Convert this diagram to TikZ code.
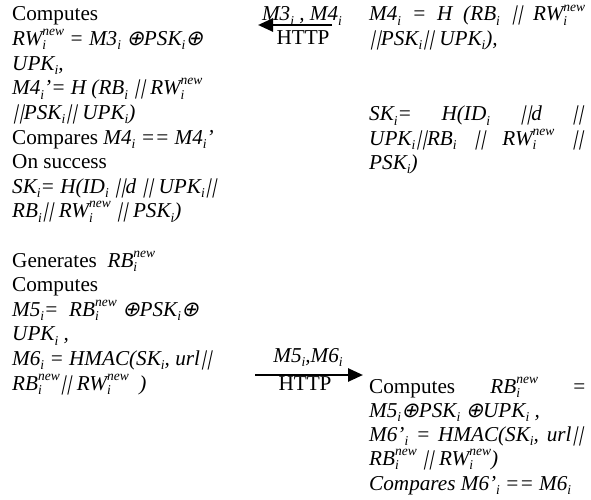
\documentclass[tikz,border=0pt]{standalone}
\usepackage{fontspec}
\setmainfont{Liberation Serif}
\newfontfamily\symf{DejaVu Sans}[FakeSlant=0.25]
\newfontfamily\barf{Liberation Serif}[FakeSlant=0.22]
\usetikzlibrary{arrows.meta}
\newcommand\lo[1]{\raisebox{-0.2em}{\fontsize{13.5}{13.5}\selectfont #1}}
\newcommand\lohi[2]{\rlap{\lo{#1}}\raisebox{0.47em}{\fontsize{13.5}{13.5}\selectfont #2}}
\newcommand\op{{\symf\fontsize{21}{21}\selectfont ⊕}}
\newcommand\bars{{\barf ||}}
\begin{document}
\begin{tikzpicture}[x=1pt,y=-1pt,
  txt/.style={anchor=base west,inner sep=0pt,font=\fontsize{21.2}{24}\selectfont},
  lbl/.style={anchor=base,inner sep=0pt,font=\fontsize{21.2}{24}\selectfont},
  msg/.style={line width=2.6pt,-{Triangle[length=15pt,width=13pt]}}]
\useasboundingbox[fill=white] (0,0) rectangle (591,500);
% left column
\node[txt] (l1) at (12,21) {Computes};
\node[txt] (l2) at (12,45.6) {\itshape RW\lohi{i}{new} = M3\lo{i} \op PSK\lo{i}\op};
\node[txt] (l3) at (12,70.2) {\itshape UPK\lo{i},};
\node[txt] (l4) at (12,94.8) {\itshape M4\lo{i}’= H (RB\lo{i} \bars\ RW\lohi{i}{new}};
\node[txt] (l5) at (12,119.4) {\itshape \bars PSK\lo{i}\bars\ UPK\lo{i})};
\node[txt] (l6) at (12,144) {Compares {\itshape M4\lo{i} == M4\lo{i}’}};
\node[txt] (l7) at (12,168.6) {On success};
\node[txt] (l8) at (12,193.2) {\itshape SK\lo{i}= H(ID\lo{i} \bars d \bars\ UPK\lo{i}\bars};
\node[txt] (l9) at (12,217.8) {\itshape RB\lo{i}\bars\ RW\lohi{i}{new} \bars\ PSK\lo{i})};
\node[txt] (l11) at (12,267) {Generates\ \ {\itshape RB\lohi{i}{new}}};
\node[txt] (l12) at (12,291.6) {Computes};
\node[txt] (l13) at (12,316.2) {\itshape M5\lo{i}=\ \ RB\lohi{i}{new} \op PSK\lo{i}\op};
\node[txt] (l14) at (12,340.8) {\itshape UPK\lo{i} ,};
\node[txt] (l15) at (12,365.4) {\itshape M6\lo{i} = HMAC(SK\lo{i}, url\bars};
\node[txt] (l16) at (12,390) {\itshape RB\lohi{i}{new}\bars\ RW\lohi{i}{new}\ \ )};
% right column, top
\node[txt] (r1) at (369,21) {\hbox to 216pt{\itshape M4\lo{i}\hfill=\hfill H\hfill(RB\lo{i}\hfill\bars\hfill RW\lohi{i}{new}}};
\node[txt] (r2) at (369,45.6) {\itshape \bars PSK\lo{i}\bars\ UPK\lo{i}),};
\node[txt] (r3) at (369,121) {\hbox to 214pt{\itshape SK\lo{i}=\hfill H(ID\lo{i}\hfill\bars d\hfill\bars}};
\node[txt] (r4) at (369,145) {\hbox to 214pt{\itshape UPK\lo{i}\bars RB\lo{i}\hfill\bars\hfill RW\lohi{i}{new}\hfill\bars}};
\node[txt] (r5) at (369,169) {\itshape PSK\lo{i})};
% right column, bottom
\node[txt] (b1) at (369,393) {\hbox to 216pt{Computes\hfill{\itshape RB\lohi{i}{new}}\hfill=}};
\node[txt] (b2) at (369,417) {\itshape M5\lo{i}\op PSK\lo{i} \op UPK\lo{i} ,};
\node[txt] (b3) at (369,441) {\hbox to 214pt{\itshape M6’\lo{i}\hfill=\hfill HMAC(SK\lo{i},\hfill url\bars}};
\node[txt] (b4) at (369,465) {\itshape RB\lohi{i}{new} \bars\ RW\lohi{i}{new})};
\node[txt] (b5) at (369,490) {\itshape Compares M6’\lo{i} == M6\lo{i}};
% messages
\node[lbl] (t1) at (302,21) {\itshape M3\lo{i} , M4\lo{i}};
\node[lbl] (t2) at (303,45) {HTTP};
\coordinate (a1) at (332,25);
\coordinate (a2) at (258,25);
\draw[msg] (a1) -- (a2);
\node[lbl] (t3) at (308,362) {\itshape M5\lo{i},M6\lo{i}};
\node[lbl] (t4) at (305,390) {HTTP};
\coordinate (c1) at (255,375);
\coordinate (c2) at (363,375);
\draw[msg] (c1) -- (c2);
\end{tikzpicture}
\end{document}
